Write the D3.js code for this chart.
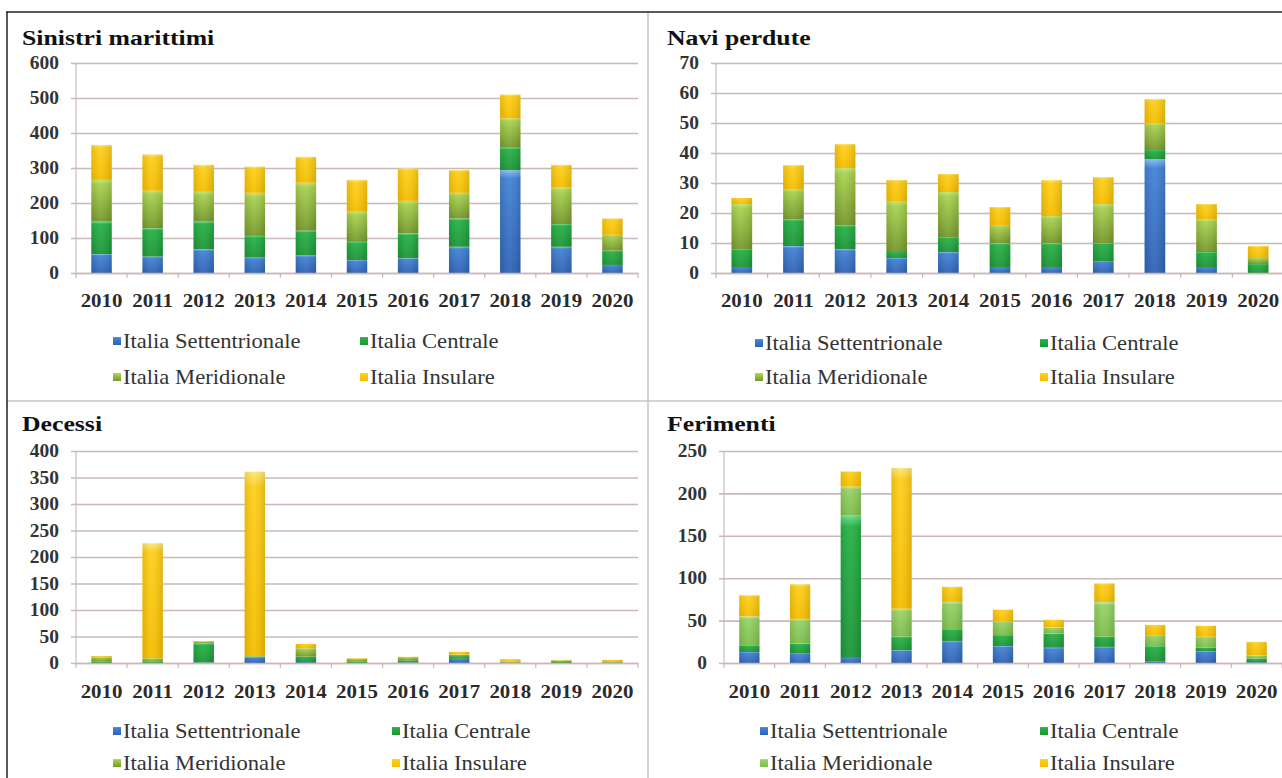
<!DOCTYPE html>
<html><head><meta charset="utf-8">
<script src="https://cdn.jsdelivr.net/npm/d3@7/dist/d3.min.js"></script>
<style>body{margin:0;background:#fff}svg{display:block}</style>
</head><body>
<svg id="c" width="1282" height="778"></svg>
<script>
// ---------- DATA ----------
const years = ["2010","2011","2012","2013","2014","2015","2016","2017","2018","2019","2020"];
const seriesNames = ["Italia Settentrionale","Italia Centrale","Italia Meridionale","Italia Insulare"];

const sinistriSettentrionale = [54,47,68,44,50,37,42,75,294,75,23];
const sinistriCentrale       = [93,81,79,62,71,52,71,81,64,65,41];
const sinistriMeridionale    = [119,107,85,123,137,86,93,73,84,104,45];
const sinistriInsulare       = [100,104,77,75,74,91,93,65,68,65,47];
const sinistriTicks = [0,100,200,300,400,500,600];

const naviSettentrionale = [2,9,8,5,7,2,2,4,38,2,0];
const naviCentrale       = [6,9,8,2,5,8,8,6,3,5,3];
const naviMeridionale    = [15,10,19,17,15,6,9,13,9,11,2];
const naviInsulare       = [2,8,8,7,6,6,12,9,8,5,4];
const naviTicks = [0,10,20,30,40,50,60,70];

const decessiSettentrionale = [0,0,1,11,2,0,1,8,0,0,0];
const decessiCentrale       = [3,3,36,1,10,3,4,5,1,2,1];
const decessiMeridionale    = [8,6,4,1,16,5,6,3,2,3,1];
const decessiInsulare       = [2,217,0,348,8,1,1,5,4,1,4];
const decessiTicks = [0,50,100,150,200,250,300,350,400];

const ferimentiSettentrionale = [13,11,6,15,26,20,18,19,2,14,1];
const ferimentiCentrale       = [8,12,168,16,14,13,17,12,18,4,4];
const ferimentiMeridionale    = [34,29,34,33,32,16,7,41,13,13,4];
const ferimentiInsulare       = [25,41,18,166,18,14,9,22,12,13,16];
const ferimentiTicks = [0,50,100,150,200,250];

// ---------- STYLE / LAYOUT ----------
const gradStops = {
  b:  [["0","#8cc0f2"],["0.08","#4282d6"],["1","#2f63b6"]],
  c:  [["0","#6ee08a"],["0.08","#26b145"],["1","#1c9638"]],
  m:  [["0","#c6e670"],["0.1","#a8d24e"],["1","#76982c"]],
  m2: [["0","#c8ec9c"],["0.1","#98d266"],["1","#7cbf4c"]],
  i:  [["0","#ffe978"],["0.08","#ffcf18"],["1","#f6be00"]]
};
const FONT = "'Liberation Serif','Times New Roman',serif";

const panels = [
  {title:"Sinistri marittimi", series:[sinistriSettentrionale,sinistriCentrale,sinistriMeridionale,sinistriInsulare], ticks:sinistriTicks,
   grads:["b","c","m","i"], x0:76, x1:638, y0:63, y1:273, tx:22, ty:45, yearY:307, legX:[113,360], legY:[348,384]},
  {title:"Navi perdute", series:[naviSettentrionale,naviCentrale,naviMeridionale,naviInsulare], ticks:naviTicks,
   grads:["b","c","m","i"], x0:716, x1:1284, y0:63, y1:273, tx:667, ty:45, yearY:307, legX:[755,1040], legY:[350,384]},
  {title:"Decessi", series:[decessiSettentrionale,decessiCentrale,decessiMeridionale,decessiInsulare], ticks:decessiTicks,
   grads:["b","c","m","i"], x0:76, x1:638, y0:451, y1:663, tx:22, ty:431, yearY:698, legX:[113,392], legY:[738,770]},
  {title:"Ferimenti", series:[ferimentiSettentrionale,ferimentiCentrale,ferimentiMeridionale,ferimentiInsulare], ticks:ferimentiTicks,
   grads:["b","c","m2","i"], x0:724, x1:1282, y0:451, y1:663, tx:667, ty:431, yearY:698, legX:[760,1040], legY:[738,770]}
];

const svg = d3.select("#c");
const defs = svg.append("defs");
Object.entries(gradStops).forEach(([id,st])=>{
  const g = defs.append("linearGradient").attr("id","g_"+id).attr("x1",0).attr("y1",0).attr("x2",0).attr("y2",1);
  st.forEach(s=>g.append("stop").attr("offset",s[0]).attr("stop-color",s[1]));
});
const sh = defs.append("linearGradient").attr("id","shade").attr("x1",0).attr("y1",0).attr("x2",1).attr("y2",0);
sh.append("stop").attr("offset","0").attr("stop-color","#000").attr("stop-opacity",0.1);
sh.append("stop").attr("offset","0.45").attr("stop-color","#fff").attr("stop-opacity",0.06);
sh.append("stop").attr("offset","1").attr("stop-color","#000").attr("stop-opacity",0.12);

// frame
svg.append("line").attr("x1",648).attr("x2",648).attr("y1",12).attr("y2",778).attr("stroke","#c4c4c4").attr("stroke-width",1.5);
svg.append("line").attr("x1",7).attr("x2",1282).attr("y1",401).attr("y2",401).attr("stroke","#c4c4c4").attr("stroke-width",1.5);
svg.append("line").attr("x1",6).attr("x2",1282).attr("y1",12).attr("y2",12).attr("stroke","#222").attr("stroke-width",1.5);
svg.append("line").attr("x1",7).attr("x2",7).attr("y1",12).attr("y2",778).attr("stroke","#222").attr("stroke-width",1.5);

panels.forEach(p=>{
  const g = svg.append("g");
  const x = d3.scaleBand().domain(years).range([p.x0,p.x1]).paddingInner(0.6).paddingOuter(0.3);
  const y = d3.scaleLinear().domain([0, d3.max(p.ticks)]).range([p.y1,p.y0]);

  g.append("text").attr("transform",`translate(${p.tx},${p.ty}) scale(1.17,1)`)
    .attr("font-family",FONT).attr("font-weight","bold").attr("font-size",22).attr("fill","#111").text(p.title);

  const ya = g.append("g").attr("transform",`translate(${p.x0},0)`)
    .call(d3.axisLeft(y).tickValues(p.ticks).tickSize(-(p.x1-p.x0)).tickPadding(0).tickFormat(d3.format("d")));
  ya.select(".domain").remove();
  ya.selectAll(".tick line").attr("stroke","#c9b9b9").attr("stroke-width",1.6).attr("x1",-5);
  ya.selectAll(".tick text").attr("font-family",FONT).attr("font-weight","bold").attr("font-size",18)
    .attr("fill","#333").attr("x",0).attr("transform","translate(-17,0) scale(1.08,1)");
  g.append("line").attr("x1",p.x0).attr("x2",p.x0).attr("y1",p.y0).attr("y2",p.y1).attr("stroke","#c9bdbd").attr("stroke-width",1.2);

  const rows = years.map((yr,i)=>{ const r={year:yr}; p.series.forEach((s,k)=>r[k]=s[i]); return r; });
  const stack = d3.stack().keys([0,1,2,3])(rows);
  stack.forEach((layer,k)=>{
    const lg = g.append("g");
    lg.selectAll("rect.f").data(layer).join("rect").attr("class","f")
      .attr("x",d=>x(d.data.year)).attr("width",x.bandwidth())
      .attr("y",d=>y(d[1])).attr("height",d=>Math.max(0,y(d[0])-y(d[1])))
      .attr("fill",`url(#g_${p.grads[k]})`);
    lg.selectAll("rect.s").data(layer).join("rect").attr("class","s")
      .attr("x",d=>x(d.data.year)).attr("width",x.bandwidth())
      .attr("y",d=>y(d[1])).attr("height",d=>Math.max(0,y(d[0])-y(d[1])))
      .attr("fill","url(#shade)");
  });

  const xa = g.append("g").attr("transform",`translate(0,${p.y1})`)
    .call(d3.axisBottom(x).tickSize(0).tickPadding(0));
  xa.select(".domain").attr("stroke","#c9b9b9").attr("stroke-width",1.6);
  xa.selectAll(".tick text").attr("font-family",FONT).attr("font-weight","bold").attr("font-size",19)
    .attr("fill","#2a2a2a").attr("y",0).attr("dy",0)
    .attr("transform",`translate(0,${p.yearY-p.y1}) scale(1.1,1)`);
  const edges = years.map(yr=>x(yr)-x.step()*x.paddingInner()/2).concat([p.x1]);
  xa.selectAll("line.edge").data(edges).join("line").attr("class","edge")
    .attr("x1",d=>d).attr("x2",d=>d).attr("y1",0).attr("y2",5).attr("stroke","#c9b9b9").attr("stroke-width",1.2);

  seriesNames.forEach((nm,k)=>{
    const lx = p.legX[k%2], ly = p.legY[Math.floor(k/2)];
    g.append("rect").attr("x",lx).attr("y",ly-11).attr("width",8).attr("height",8).attr("fill",`url(#g_${p.grads[k]})`);
    g.append("text").attr("transform",`translate(${lx+10},${ly}) scale(1.13,1)`)
      .attr("font-family",FONT).attr("font-size",20).attr("fill","#333").text(nm);
  });
});
</script>
</body></html>
